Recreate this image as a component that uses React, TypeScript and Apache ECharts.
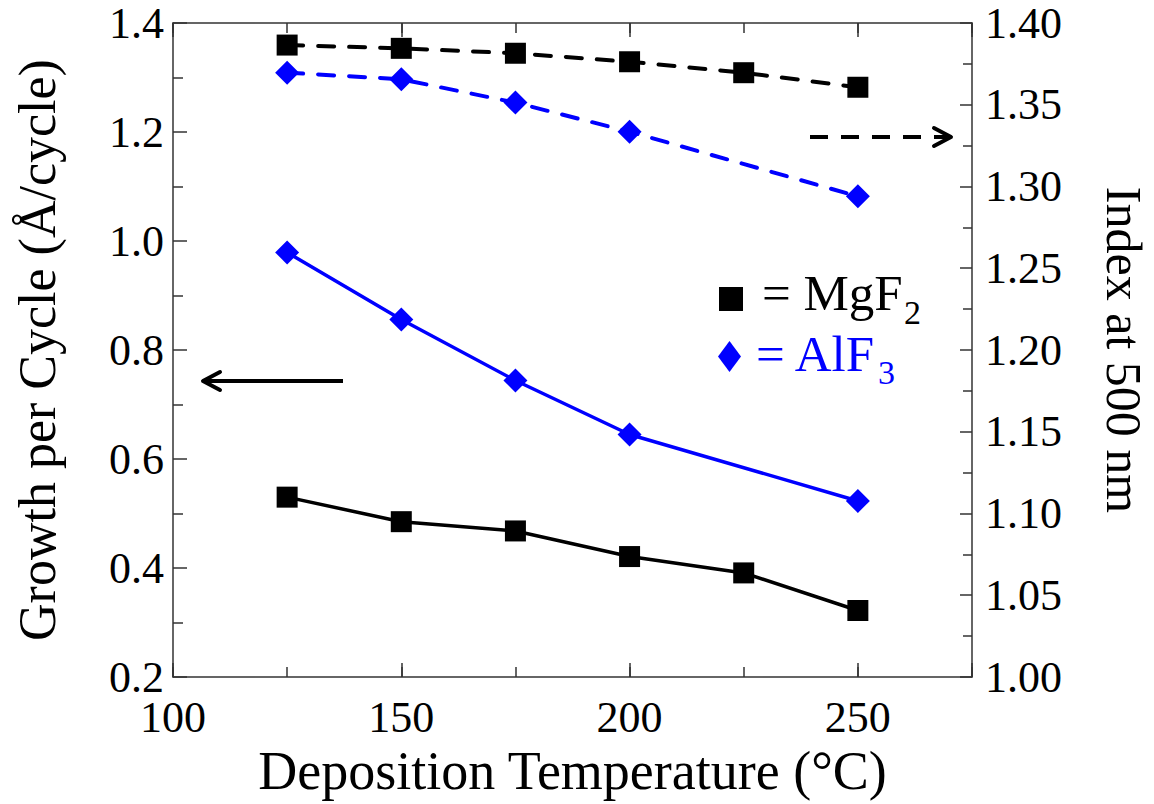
import React, { useEffect, useRef } from "react";
import * as echarts from "echarts";

const temps = [125, 150, 175, 200, 225, 250];
const alf3Temps = [125, 150, 175, 200, 250];
const mgf2Gpc = [0.53, 0.485, 0.468, 0.421, 0.391, 0.322];
const alf3Gpc = [0.979, 0.856, 0.744, 0.645, 0.523];
const mgf2Index = [1.3865, 1.3845, 1.3815, 1.3763, 1.3696, 1.3607];
const alf3Index = [1.3696, 1.3656, 1.3513, 1.3335, 1.294];

const FONT = '"Liberation Serif", "Times New Roman", serif';
const AX = "#333";

function pairs(xs: number[], ys: number[]) {
  return xs.map((x, i) => [x, ys[i]]);
}

export default function App() {
  const ref = useRef<HTMLDivElement>(null);
  useEffect(() => {
    if (!ref.current) return;
    const chart = echarts.init(ref.current, undefined, { renderer: "svg" });
    const xBase = {
      type: "value",
      min: 100,
      max: 275,
      splitLine: { show: false },
    };
    const tickLabel = { fontSize: 44, lineHeight: 40, fontFamily: FONT, color: "#000" };
    chart.setOption({
      animation: false,
      backgroundColor: "#fff",
      grid: { left: 173, top: 23, right: 182, bottom: 127, containLabel: false, outerBoundsMode: "none" },
      xAxis: [
        {
          ...xBase,
          position: "bottom",
          interval: 25,
          axisLine: { show: true, lineStyle: { color: AX, width: 1.5 } },
          axisTick: { show: true, inside: true, length: 10, lineStyle: { color: AX, width: 1.5 } },
          axisLabel: {
            ...tickLabel,
            formatter: (v: number) => (v % 50 === 0 ? String(v) : ""),
            margin: 20,
          },
          name: "Deposition Temperature (°C)",
          nameLocation: "middle",
          nameGap: 63,
          nameTextStyle: { fontSize: 54, fontFamily: FONT, color: "#000" },
        },
        {
          ...xBase,
          position: "bottom",
          interval: 50,
          axisLine: { show: false },
          axisTick: { show: true, inside: true, length: 14, lineStyle: { color: AX, width: 1.5 } },
          axisLabel: { show: false },
        },
        {
          ...xBase,
          position: "top",
          interval: 25,
          axisLine: { show: true, lineStyle: { color: AX, width: 1.5 } },
          axisTick: { show: true, inside: true, length: 10, lineStyle: { color: AX, width: 1.5 } },
          axisLabel: { show: false },
        },
        {
          ...xBase,
          position: "top",
          interval: 50,
          axisLine: { show: false },
          axisTick: { show: true, inside: true, length: 14, lineStyle: { color: AX, width: 1.5 } },
          axisLabel: { show: false },
        },
      ],
      yAxis: [
        {
          type: "value",
          position: "left",
          min: 0.2,
          max: 1.4,
          interval: 0.2,
          splitLine: { show: false },
          axisLine: { show: true, lineStyle: { color: AX, width: 1.5 } },
          axisTick: { show: true, inside: true, length: 14, lineStyle: { color: AX, width: 1.5 } },
          minorTick: { show: true, splitNumber: 2, length: 10, lineStyle: { color: AX, width: 1.5 } },
          axisLabel: {
            ...tickLabel,
            formatter: (v: number) => v.toFixed(1),
            margin: 9,
          },
          name: "Growth per Cycle (Å/cycle)",
          nameLocation: "middle",
          nameRotate: 90,
          nameGap: 110,
          nameTextStyle: { fontSize: 52, fontFamily: FONT, color: "#000" },
        },
        {
          type: "value",
          position: "right",
          min: 1.0,
          max: 1.4,
          interval: 0.05,
          splitLine: { show: false },
          axisLine: { show: true, lineStyle: { color: AX, width: 1.5 } },
          axisTick: { show: true, inside: true, length: 12, lineStyle: { color: AX, width: 1.5 } },
          minorTick: { show: true, splitNumber: 2, length: 9, lineStyle: { color: AX, width: 1.5 } },
          axisLabel: {
            ...tickLabel,
            formatter: (v: number) => v.toFixed(2),
            margin: 13,
          },
          name: "Index at 500 nm",
          nameLocation: "middle",
          nameRotate: -90,
          nameGap: 131,
          nameTextStyle: { fontSize: 50, lineHeight: 42, fontFamily: FONT, color: "#000" },
        },
      ],
      series: [
        {
          type: "line",
          name: "MgF2 GPC",
          xAxisIndex: 0,
          yAxisIndex: 0,
          data: pairs(temps, mgf2Gpc),
          symbol: "rect",
          symbolSize: 21,
          itemStyle: { color: "#000" },
          lineStyle: { color: "#000", width: 3.5 },
          z: 3,
        },
        {
          type: "line",
          name: "AlF3 GPC",
          xAxisIndex: 0,
          yAxisIndex: 0,
          data: pairs(alf3Temps, alf3Gpc),
          symbol: "diamond",
          symbolSize: 24,
          itemStyle: { color: "#0000ff" },
          lineStyle: { color: "#0000ff", width: 3.5 },
          z: 3,
        },
        {
          type: "line",
          name: "MgF2 index",
          xAxisIndex: 0,
          yAxisIndex: 1,
          data: pairs(temps, mgf2Index),
          symbol: "rect",
          symbolSize: 21,
          itemStyle: { color: "#000" },
          lineStyle: { color: "#000", width: 4, type: [16, 15], cap: "round" },
          z: 3,
        },
        {
          type: "line",
          name: "AlF3 index",
          xAxisIndex: 0,
          yAxisIndex: 1,
          data: pairs(alf3Temps, alf3Index),
          symbol: "diamond",
          symbolSize: 24,
          itemStyle: { color: "#0000ff" },
          lineStyle: { color: "#0000ff", width: 4, type: [16, 15], cap: "round" },
          z: 3,
        },
      ],
      graphic: [
        { type: "rect", shape: { x: 719, y: 287, width: 24, height: 24 }, style: { fill: "#000" } },
        {
          type: "text",
          style: { text: "= MgF", x: 762, y: 293, fontSize: 51, fontFamily: FONT, fill: "#000", verticalAlign: "middle", align: "left" },
        },
        {
          type: "text",
          style: { text: "2", x: 904, y: 312, fontSize: 34, fontFamily: FONT, fill: "#000", verticalAlign: "middle", align: "left" },
        },
        {
          type: "polygon",
          shape: { points: [[729.5, 341], [741, 356.5], [729.5, 372], [718, 356.5]] },
          style: { fill: "#0000ff" },
        },
        {
          type: "text",
          style: { text: "= AlF", x: 756, y: 354, fontSize: 51, fontFamily: FONT, fill: "#0000ff", verticalAlign: "middle", align: "left" },
        },
        {
          type: "text",
          style: { text: "3", x: 878, y: 372, fontSize: 34, fontFamily: FONT, fill: "#0000ff", verticalAlign: "middle", align: "left" },
        },
        {
          type: "line",
          shape: { x1: 343, y1: 381, x2: 204, y2: 381 },
          style: { stroke: "#000", lineWidth: 4 },
        },
        {
          type: "polyline",
          shape: { points: [[220, 372], [203, 381], [220, 390]] },
          style: { stroke: "#000", lineWidth: 4, fill: "none", lineCap: "round", lineJoin: "round" },
        },
        {
          type: "line",
          shape: { x1: 810, y1: 137, x2: 947, y2: 137 },
          style: { stroke: "#000", lineWidth: 4, lineDash: [18, 13] },
        },
        {
          type: "polyline",
          shape: { points: [[934, 128], [951, 137], [934, 146]] },
          style: { stroke: "#000", lineWidth: 4, fill: "none", lineCap: "round", lineJoin: "round" },
        },
      ],
    });
    return () => chart.dispose();
  }, []);
  return (
    <div
      ref={ref}
      style={{ position: "absolute", left: 0, top: 0, width: 1154, height: 804, background: "#fff" }}
    />
  );
}
